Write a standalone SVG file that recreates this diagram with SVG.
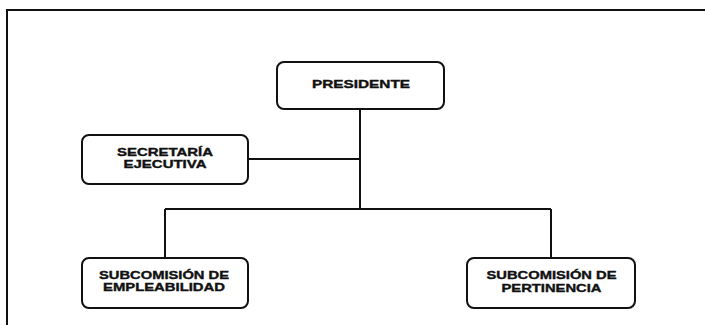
<svg xmlns="http://www.w3.org/2000/svg" width="705" height="325" viewBox="0 0 705 325">
<style>
.box{fill:#fff;stroke:#111;stroke-width:2}
.ln{fill:none;stroke:#111;stroke-width:2}
.t{font-family:"Liberation Sans",Arial,sans-serif;font-weight:bold;font-size:10.5px;fill:#111;text-anchor:middle;stroke:#111;stroke-width:0.35}
</style>
<rect width="705" height="325" fill="#fff"/>
<path class="ln" d="M7,325 V10 H705"/>
<g id="connectors">
<path class="ln" d="M360,109 V209"/>
<path class="ln" d="M248,159 H360"/>
<path class="ln" d="M165,209 H551"/>
<path class="ln" d="M165,209 V258"/>
<path class="ln" d="M551,209 V258"/>
</g>
<g id="presidente">
<rect class="box" x="277" y="62" width="167" height="47" rx="7"/>
<text class="t" x="361" y="88" textLength="98" lengthAdjust="spacingAndGlyphs">PRESIDENTE</text>
</g>
<g id="secretaria">
<rect class="box" x="82" y="135" width="166" height="49" rx="7"/>
<text class="t" x="165" y="156" textLength="96" lengthAdjust="spacingAndGlyphs">SECRETARÍA</text>
<text class="t" x="165" y="168" textLength="83" lengthAdjust="spacingAndGlyphs">EJECUTIVA</text>
</g>
<g id="empleabilidad">
<rect class="box" x="82" y="258" width="166" height="50" rx="7"/>
<text class="t" x="164" y="278.5" textLength="130" lengthAdjust="spacingAndGlyphs">SUBCOMISIÓN DE</text>
<text class="t" x="164" y="291" textLength="122" lengthAdjust="spacingAndGlyphs">EMPLEABILIDAD</text>
</g>
<g id="pertinencia">
<rect class="box" x="467" y="258" width="168" height="50" rx="7"/>
<text class="t" x="551.5" y="279" textLength="130" lengthAdjust="spacingAndGlyphs">SUBCOMISIÓN DE</text>
<text class="t" x="551.5" y="291.5" textLength="100" lengthAdjust="spacingAndGlyphs">PERTINENCIA</text>
</g>
</svg>
